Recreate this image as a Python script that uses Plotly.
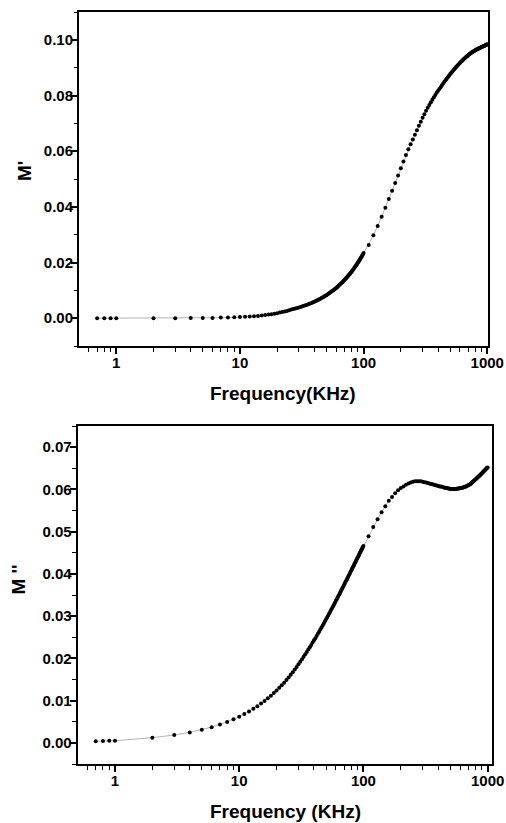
import plotly.graph_objects as go

# Frequency (kHz)
freq_khz = [0.7, 0.8, 0.9, 1,
            2, 3, 4, 5, 6, 7, 8, 9, 10,
            11, 12, 13, 14, 15, 16, 17, 18, 19, 20,
            21, 22, 23, 24, 25, 26, 27, 28, 29, 30,
            31, 32, 33, 34, 35, 36, 37, 38, 39, 40,
            41, 42, 43, 44, 45, 46, 47, 48, 49, 50,
            51, 52, 53, 54, 55, 56, 57, 58, 59, 60,
            61, 62, 63, 64, 65, 66, 67, 68, 69, 70,
            71, 72, 73, 74, 75, 76, 77, 78, 79, 80,
            81, 82, 83, 84, 85, 86, 87, 88, 89, 90,
            91, 92, 93, 94, 95, 96, 97, 98, 99, 100,
            110, 120, 130, 140, 150, 160, 170, 180, 190, 200,
            210, 220, 230, 240, 250, 260, 270, 280, 290, 300,
            310, 320, 330, 340, 350, 360, 370, 380, 390, 400,
            410, 420, 430, 440, 450, 460, 470, 480, 490, 500,
            510, 520, 530, 540, 550, 560, 570, 580, 590, 600,
            610, 620, 630, 640, 650, 660, 670, 680, 690, 700,
            710, 720, 730, 740, 750, 760, 770, 780, 790, 800,
            810, 820, 830, 840, 850, 860, 870, 880, 890, 900,
            910, 920, 930, 940, 950, 960, 970, 980, 990, 1000]

# M' (real part of electric modulus)
m_real = [0.0000, 0.0000, 0.0000, 0.0000,
          0.0000, 0.0000, 0.0001, 0.0001, 0.0001, 0.0002, 0.0002, 0.0003, 0.0004,
          0.0005, 0.0006, 0.0007, 0.0008, 0.0010, 0.0011, 0.0013, 0.0014, 0.0016, 0.0018,
          0.0020, 0.0022, 0.0024, 0.0026, 0.0028, 0.0031, 0.0033, 0.00347, 0.00365, 0.00385,
          0.00404, 0.00424, 0.00444, 0.00464, 0.00485, 0.00505, 0.00527, 0.00548, 0.00570, 0.00592,
          0.00614, 0.00637, 0.00660, 0.00683, 0.00706, 0.00730, 0.00754, 0.00778, 0.00803, 0.00827,
          0.00852, 0.00878, 0.00903, 0.00929, 0.00955, 0.00981, 0.01007, 0.01034, 0.01061, 0.01088,
          0.01115, 0.01142, 0.01170, 0.01198, 0.01226, 0.01255, 0.01283, 0.01312, 0.01341, 0.01370,
          0.01400, 0.01430, 0.01460, 0.01490, 0.01520, 0.01550, 0.01581, 0.01612, 0.01643, 0.01674,
          0.01706, 0.01738, 0.01769, 0.01802, 0.01834, 0.01866, 0.01899, 0.01932, 0.01965, 0.01998,
          0.02031, 0.02065, 0.02099, 0.02133, 0.02167, 0.02201, 0.02236, 0.02270, 0.02305, 0.02340,
          0.0263, 0.0298, 0.0331, 0.0364, 0.0397, 0.0428, 0.0458, 0.0486, 0.0513, 0.0539,
          0.0563, 0.0586, 0.0607, 0.0625, 0.0642, 0.0659, 0.0675, 0.0691, 0.0706, 0.0720,
          0.0733, 0.0745, 0.0756, 0.0766, 0.0776, 0.0785, 0.0794, 0.0802, 0.0810, 0.0817,
          0.0823, 0.0830, 0.0837, 0.0843, 0.0849, 0.0855, 0.0860, 0.0866, 0.0871, 0.0876,
          0.0881, 0.0885, 0.0890, 0.0894, 0.0898, 0.0902, 0.0906, 0.0910, 0.0913, 0.0917,
          0.0920, 0.0923, 0.0926, 0.0929, 0.0932, 0.0935, 0.0937, 0.0940, 0.0942, 0.0944,
          0.0947, 0.0949, 0.0951, 0.0953, 0.0955, 0.0956, 0.0958, 0.0960, 0.0961, 0.0963,
          0.0964, 0.0965, 0.0967, 0.0968, 0.0969, 0.0970, 0.0971, 0.0972, 0.0973, 0.0974,
          0.0975, 0.0976, 0.0977, 0.0978, 0.0979, 0.0980, 0.0981, 0.0982, 0.0983, 0.0984]

# M'' (imaginary part of electric modulus)
m_imag = [0.0004, 0.00045, 0.0005, 0.0005,
          0.00124, 0.00186, 0.00248, 0.0031, 0.00372, 0.00434, 0.00496, 0.00558, 0.0062,
          0.00682, 0.00744, 0.00806, 0.00868, 0.0093, 0.00992, 0.01054, 0.01116, 0.01178, 0.0124,
          0.01302, 0.01364, 0.01426, 0.01488, 0.0155, 0.01612, 0.01674, 0.01736, 0.01798, 0.01859,
          0.01919, 0.01978, 0.02037, 0.02095, 0.02152, 0.02208, 0.02264, 0.02319, 0.02373, 0.02427,
          0.02478, 0.02530, 0.02581, 0.02632, 0.02683, 0.02731, 0.02779, 0.02828, 0.02876, 0.02924,
          0.02969, 0.03014, 0.03060, 0.03105, 0.03150, 0.03192, 0.03234, 0.03277, 0.03319, 0.03361,
          0.03401, 0.03441, 0.03480, 0.03520, 0.03560, 0.03597, 0.03635, 0.03672, 0.03710, 0.03747,
          0.03782, 0.03817, 0.03852, 0.03887, 0.03922, 0.03955, 0.03988, 0.04022, 0.04055, 0.04088,
          0.04119, 0.04150, 0.04182, 0.04213, 0.04244, 0.04273, 0.04303, 0.04332, 0.04362, 0.04391,
          0.04419, 0.04447, 0.04475, 0.04503, 0.04531, 0.04557, 0.04583, 0.04610, 0.04636, 0.04662,
          0.0489, 0.0511, 0.0529, 0.0546, 0.0560, 0.0573, 0.0582, 0.0591, 0.0598, 0.0603,
          0.0607, 0.0611, 0.0614, 0.0616, 0.0618, 0.0619, 0.0619, 0.0619, 0.0619, 0.0618,
          0.0617, 0.0616, 0.0615, 0.0614, 0.0613, 0.0612, 0.0611, 0.0610, 0.0609, 0.0608,
          0.0607, 0.0607, 0.0606, 0.0605, 0.0604, 0.0604, 0.0603, 0.0602, 0.0602, 0.0601,
          0.0601, 0.0601, 0.0601, 0.0601, 0.0601, 0.0601, 0.0602, 0.0602, 0.0602, 0.0603,
          0.0603, 0.0604, 0.0604, 0.0605, 0.0606, 0.0606, 0.0607, 0.0608, 0.0609, 0.0610,
          0.0611, 0.0612, 0.0613, 0.0615, 0.0617, 0.0618, 0.0620, 0.0621, 0.0623, 0.0624,
          0.0625, 0.0627, 0.0628, 0.0630, 0.0631, 0.0632, 0.0634, 0.0635, 0.0637, 0.0638,
          0.0640, 0.0641, 0.0643, 0.0644, 0.0645, 0.0647, 0.0648, 0.0650, 0.0651, 0.0652]

x_tickvals = [1, 10, 100, 1000]
x_ticktext = ["1", "10", "100", "1000"]
x_minor_ticks = [0.6, 0.7, 0.8, 0.9,
                 2, 3, 4, 5, 6, 7, 8, 9,
                 20, 30, 40, 50, 60, 70, 80, 90,
                 200, 300, 400, 500, 600, 700, 800, 900]

x_title_top = "Frequency(KHz)"
x_title_bottom = "Frequency (KHz)"
y_title_top = "M'"
y_title_bottom = "M ''"

W, H = 506, 823
FONT = "Liberation Sans, Arial, Helvetica, sans-serif"
tick_font = dict(family=FONT, size=15, color="black", weight="bold")
title_font = dict(family=FONT, size=19, color="black", weight="bold")


def px(v):
    return v / W


def py(v):
    return 1 - v / H


fig = go.Figure()

marker_style = dict(color="black", size=4, symbol="circle", line=dict(width=0))
line_style = dict(color="#a0a0a0", width=0.8)

fig.add_trace(go.Scatter(x=freq_khz, y=m_real, mode="lines+markers",
                         line=line_style, marker=marker_style,
                         xaxis="x", yaxis="y", showlegend=False,
                         hoverinfo="skip"))
fig.add_trace(go.Scatter(x=freq_khz, y=m_imag, mode="lines+markers",
                         line=line_style, marker=marker_style,
                         xaxis="x2", yaxis="y2", showlegend=False,
                         hoverinfo="skip"))


def xaxis_style(domain, rng, anchor):
    return dict(
        type="log", domain=domain, range=rng, anchor=anchor, automargin=False,
        showline=True, linewidth=2, linecolor="black", mirror=True,
        ticks="outside", ticklen=6, tickwidth=1.5, tickcolor="black",
        tickmode="array", tickvals=x_tickvals, ticktext=x_ticktext,
        ticklabelstandoff=-4,
        minor=dict(tickmode="array", tickvals=x_minor_ticks, ticks="outside",
                   ticklen=3.5, tickwidth=1.2, tickcolor="black", showgrid=False),
        showgrid=False, zeroline=False, tickfont=tick_font,
    )


def yaxis_style(domain, rng, dtick, anchor):
    return dict(
        domain=domain, range=rng, anchor=anchor, automargin=False,
        showline=True, linewidth=2, linecolor="black", mirror=True,
        ticks="outside", ticklen=6, tickwidth=1.5, tickcolor="black",
        tick0=0, dtick=dtick, tickformat=".2f",
        ticklabelstandoff=-5,
        minor=dict(tick0=0, dtick=dtick / 2, ticks="outside",
                   ticklen=3.5, tickwidth=1.2, tickcolor="black", showgrid=False),
        showgrid=False, zeroline=False, tickfont=tick_font,
    )


fig.update_layout(
    width=W, height=H,
    margin=dict(l=0, r=0, t=0, b=0, autoexpand=False),
    paper_bgcolor="white", plot_bgcolor="white",
    xaxis=xaxis_style([px(79), px(488)], [-0.3015, 3.006], "y"),
    yaxis=yaxis_style([py(346), py(12)], [-0.01, 0.11], 0.02, "x"),
    xaxis2=xaxis_style([px(77.7), px(492)], [-0.300, 3.035], "y2"),
    yaxis2=yaxis_style([py(764), py(426)], [-0.005, 0.075], 0.01, "x2"),
)

annotations = [
    dict(text=x_title_top, x=px(283), y=py(394)),
    dict(text=x_title_bottom, x=px(285), y=py(811)),
    dict(text=y_title_top, x=px(25), y=py(171), textangle=-90),
    dict(text=y_title_bottom, x=px(17.5), y=py(580), textangle=-90),
]
for a in annotations:
    fig.add_annotation(xref="paper", yref="paper", showarrow=False,
                       xanchor="center", yanchor="middle",
                       font=title_font, **a)

# Remove the default page margin so the figure sits at the window's top-left corner.
fig.write_html("out.html",
               config={"displayModeBar": False},
               post_script="document.body.style.margin='0';"
                           "document.body.style.overflow='hidden';")
